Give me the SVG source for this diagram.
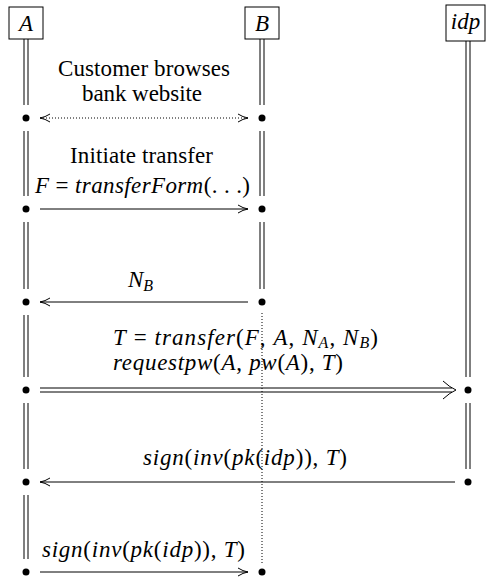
<svg xmlns="http://www.w3.org/2000/svg" width="486" height="578" viewBox="0 0 486 578">
<style>
  .box { fill:#fff; stroke:#000; stroke-width:1; }
  .life { fill:none; stroke:#000; stroke-width:1; }
  .dotted { fill:none; stroke:#000; stroke-width:1; stroke-dasharray:1 2; }
  .msg { fill:none; stroke:#000; stroke-width:1; }
  .dot { fill:#000; }
  text { font-family:"Liberation Serif","Times New Roman",serif; font-size:23px; fill:#000; }
  .i { font-style:italic; }
  .sub { font-style:italic; font-size:16px; }
</style>
<defs>
  <marker id="arr" markerUnits="userSpaceOnUse" viewBox="0 0 10 10" markerWidth="10" markerHeight="10" refX="10" refY="5" orient="auto-start-reverse">
    <path d="M0,1 Q5,4.2 10,5 Q5,5.8 0,9" fill="none" stroke="#000" stroke-width="1"/>
  </marker>
</defs>

<g id="A">
  <rect class="box" x="9" y="7" width="34" height="32"/>
  <text class="i" x="26" y="31" text-anchor="middle">A</text>
  <path class="life" d="M24,39V105M28,39V105M24,131V196M28,131V196M24,222V289M28,222V289M24,315V377M28,315V377M24,403V469M28,403V469M24,495V559M28,495V559"/>
  <circle class="dot" cx="26" cy="118" r="3.5"/>
  <circle class="dot" cx="26" cy="209" r="3.5"/>
  <circle class="dot" cx="26" cy="302" r="3.5"/>
  <circle class="dot" cx="26" cy="390" r="3.5"/>
  <circle class="dot" cx="26" cy="482" r="3.5"/>
  <circle class="dot" cx="26" cy="572" r="3.5"/>
</g>

<g id="B">
  <rect class="box" x="245" y="7" width="34" height="32"/>
  <text class="i" x="262" y="31" text-anchor="middle">B</text>
  <path class="life" d="M260,39V105M264,39V105M260,131V196M264,131V196M260,222V289M264,222V289"/>
  <path class="dotted" d="M262,313V565"/>
  <circle class="dot" cx="262" cy="118" r="3.5"/>
  <circle class="dot" cx="262" cy="209" r="3.5"/>
  <circle class="dot" cx="262" cy="302" r="3.5"/>
  <circle class="dot" cx="262" cy="572" r="3.5"/>
</g>

<g id="idp">
  <rect class="box" x="446" y="5" width="39" height="36"/>
  <text class="i" x="465.5" y="29" text-anchor="middle">idp</text>
  <path class="life" d="M466,41V377M470,41V377M466,403V469M470,403V469"/>
  <circle class="dot" cx="468" cy="390" r="3.5"/>
  <circle class="dot" cx="468" cy="482" r="3.5"/>
</g>

<g id="connectors">
  <path class="dotted" d="M40,118H248" marker-start="url(#arr)" marker-end="url(#arr)"/>
  <text x="58" y="76" textLength="172" lengthAdjust="spacing">Customer browses</text>
  <text x="82" y="101" textLength="120" lengthAdjust="spacing">bank website</text>

  <path class="msg" d="M40,209H248" marker-end="url(#arr)"/>
  <text x="70" y="163" textLength="143" lengthAdjust="spacing">Initiate transfer</text>
  <text x="35" y="193" textLength="215" lengthAdjust="spacing"><tspan class="i">F</tspan> = <tspan class="i">transferForm</tspan>(. . .)</text>

  <path class="msg" d="M248,302H40" marker-end="url(#arr)"/>
  <text x="128" y="287"><tspan class="i">N</tspan><tspan class="sub" dy="4">B</tspan></text>

  <path class="msg" d="M40,388H452M40,392H452"/>
  <path class="msg" d="M443,381 Q450,387.5 456,390 Q450,392.5 443,399"/>
  <text x="113" y="345" textLength="265" lengthAdjust="spacing"><tspan class="i">T</tspan> = <tspan class="i">transfer</tspan>(<tspan class="i">F</tspan>, <tspan class="i">A</tspan>, <tspan class="i">N</tspan><tspan class="sub" dy="3">A</tspan><tspan dy="-3">, </tspan><tspan class="i">N</tspan><tspan class="sub" dy="3">B</tspan><tspan dy="-3">)</tspan></text>
  <text x="113" y="370" textLength="230" lengthAdjust="spacing"><tspan class="i">requestpw</tspan>(<tspan class="i">A</tspan>, <tspan class="i">pw</tspan>(<tspan class="i">A</tspan>), <tspan class="i">T</tspan>)</text>

  <path class="msg" d="M455,482H40" marker-end="url(#arr)"/>
  <text x="143" y="465" textLength="204" lengthAdjust="spacing"><tspan class="i">sign</tspan>(<tspan class="i">inv</tspan>(<tspan class="i">pk</tspan>(<tspan class="i">idp</tspan>)), <tspan class="i">T</tspan>)</text>

  <path class="msg" d="M40,572H248" marker-end="url(#arr)"/>
  <text x="42" y="557" textLength="203" lengthAdjust="spacing"><tspan class="i">sign</tspan>(<tspan class="i">inv</tspan>(<tspan class="i">pk</tspan>(<tspan class="i">idp</tspan>)), <tspan class="i">T</tspan>)</text>
</g>
</svg>
